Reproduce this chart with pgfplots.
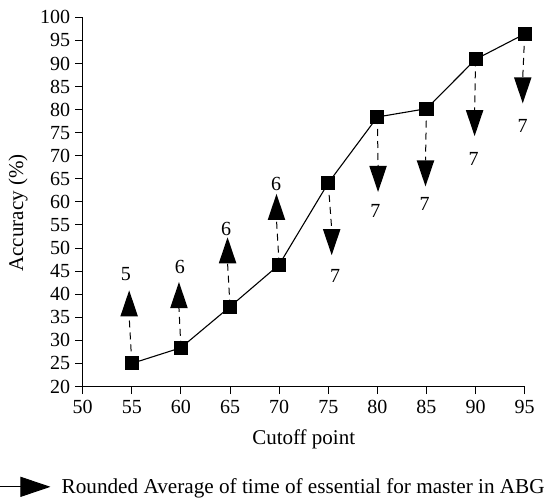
\documentclass[border=0pt]{standalone}
\usepackage{fontspec}
\setmainfont{Liberation Serif}
\usepackage{pgfplots}
\pgfplotsset{compat=1.18}
\usetikzlibrary{arrows.meta}

\pgfdeclareplotmark{uparr}{%
  \pgfpathmoveto{\pgfqpoint{-8.8pt}{0pt}}%
  \pgfpathlineto{\pgfqpoint{8.8pt}{0pt}}%
  \pgfpathlineto{\pgfqpoint{0pt}{26pt}}%
  \pgfpathclose\pgfusepathqfill}
\pgfdeclareplotmark{downarr}{%
  \pgfpathmoveto{\pgfqpoint{-8.8pt}{0pt}}%
  \pgfpathlineto{\pgfqpoint{8.8pt}{0pt}}%
  \pgfpathlineto{\pgfqpoint{0pt}{-26pt}}%
  \pgfpathclose\pgfusepathqfill}

\pgfplotstableread{
x y
55 25
60 28.4
65 37.3
70 46.4
75 64.1
80 78.4
85 80.2
90 90.9
95 96.4
}\acc

\pgfplotstableread{
x y
54.73 35.2
59.8 37.0
64.75 46.7
69.73 56.1
}\upbase

\pgfplotstableread{
x y
75.35 54.1
80.07 67.8
84.9 69.0
89.9 79.9
94.8 87.0
}\downbase

\pgfplotstableread{
x y label
54.4 44.3 5
59.9 45.9 6
64.6 54.1 6
69.7 63.8 6
75.7 43.9 7
79.8 58.1 7
84.8 59.6 7
89.8 69.3 7
94.8 76.4 7
}\labs

\begin{document}
\begin{tikzpicture}
\begin{axis}[
  scale only axis,
  width=442pt, height=369.2pt,
  xmin=50, xmax=95, ymin=20, ymax=100,
  xtick={50,55,...,95},
  ytick={20,25,...,100},
  axis lines*=left,
  tick align=outside,
  major tick length=7.5pt,
  tick style={black, line width=1pt},
  axis line style={line width=1pt},
  tick label style={font=\fontsize{20}{24}\selectfont},
  xticklabel style={yshift=-3pt},
  yticklabel style={xshift=-1.5pt},
  /pgf/number format/assume math mode=true,
  xlabel={Cutoff point},
  ylabel={Accuracy (\%)},
  label style={font=\fontsize{21}{25}\selectfont},
  xlabel style={at={(axis description cs:0.5,-0.1444)}, anchor=center},
  ylabel style={at={(axis description cs:-0.1464,0.47)}, anchor=center, rotate=0},
  clip=false,
  legend style={at={(axis description cs:-0.1871,-0.2717)}, anchor=west, draw=none, fill=none,
    font=\fontsize{21.2}{25}\selectfont, inner sep=0pt, outer sep=0pt},
  legend cell align=left,
]
\addlegendimage{legend image code/.code={\draw[line width=1pt,-{Triangle[length=30pt,width=20pt]}] (0pt,0pt) -- (50pt,0pt); \path (59pt,0pt);}}
\addlegendentry{Rounded Average of time of essential for master in ABG}

% invisible frame fixing the picture's extent
\path (axis description cs:-0.1871,-0.3123) (axis description cs:1.0527,1.0469);

% dashed connectors
\addplot[black, line width=1pt, dash pattern=on 7pt off 5pt, forget plot] coordinates {(55,25) (54.73,35.2)};
\addplot[black, line width=1pt, dash pattern=on 7pt off 5pt, forget plot] coordinates {(60,28.4) (59.8,37.0)};
\addplot[black, line width=1pt, dash pattern=on 7pt off 5pt, forget plot] coordinates {(65,37.3) (64.75,46.7)};
\addplot[black, line width=1pt, dash pattern=on 7pt off 5pt, forget plot] coordinates {(70,46.4) (69.73,56.1)};
\addplot[black, line width=1pt, dash pattern=on 7pt off 5pt, forget plot] coordinates {(75,64.1) (75.35,54.1)};
\addplot[black, line width=1pt, dash pattern=on 7pt off 5pt, forget plot] coordinates {(80,78.4) (80.07,67.8)};
\addplot[black, line width=1pt, dash pattern=on 7pt off 5pt, forget plot] coordinates {(85,80.2) (84.9,69.0)};
\addplot[black, line width=1pt, dash pattern=on 7pt off 5pt, forget plot] coordinates {(90,90.9) (89.9,79.9)};
\addplot[black, line width=1pt, dash pattern=on 7pt off 5pt, forget plot] coordinates {(95,96.4) (94.8,87.0)};

% arrowheads
\addplot[only marks, mark=uparr, black, forget plot] table {\upbase};
\addplot[only marks, mark=downarr, black, forget plot] table {\downbase};

% main line
\addplot[black, line width=1.1pt, mark=square*, mark size=6.5pt, mark options={solid, fill=black}, forget plot] table {\acc};

% labels
\addplot[only marks, mark=none, forget plot,
  nodes near coords, point meta=explicit symbolic,
  nodes near coords style={anchor=center, inner sep=0pt, font=\fontsize{20}{24}\selectfont}]
  table[meta=label] {\labs};
\end{axis}
\end{tikzpicture}
\end{document}
